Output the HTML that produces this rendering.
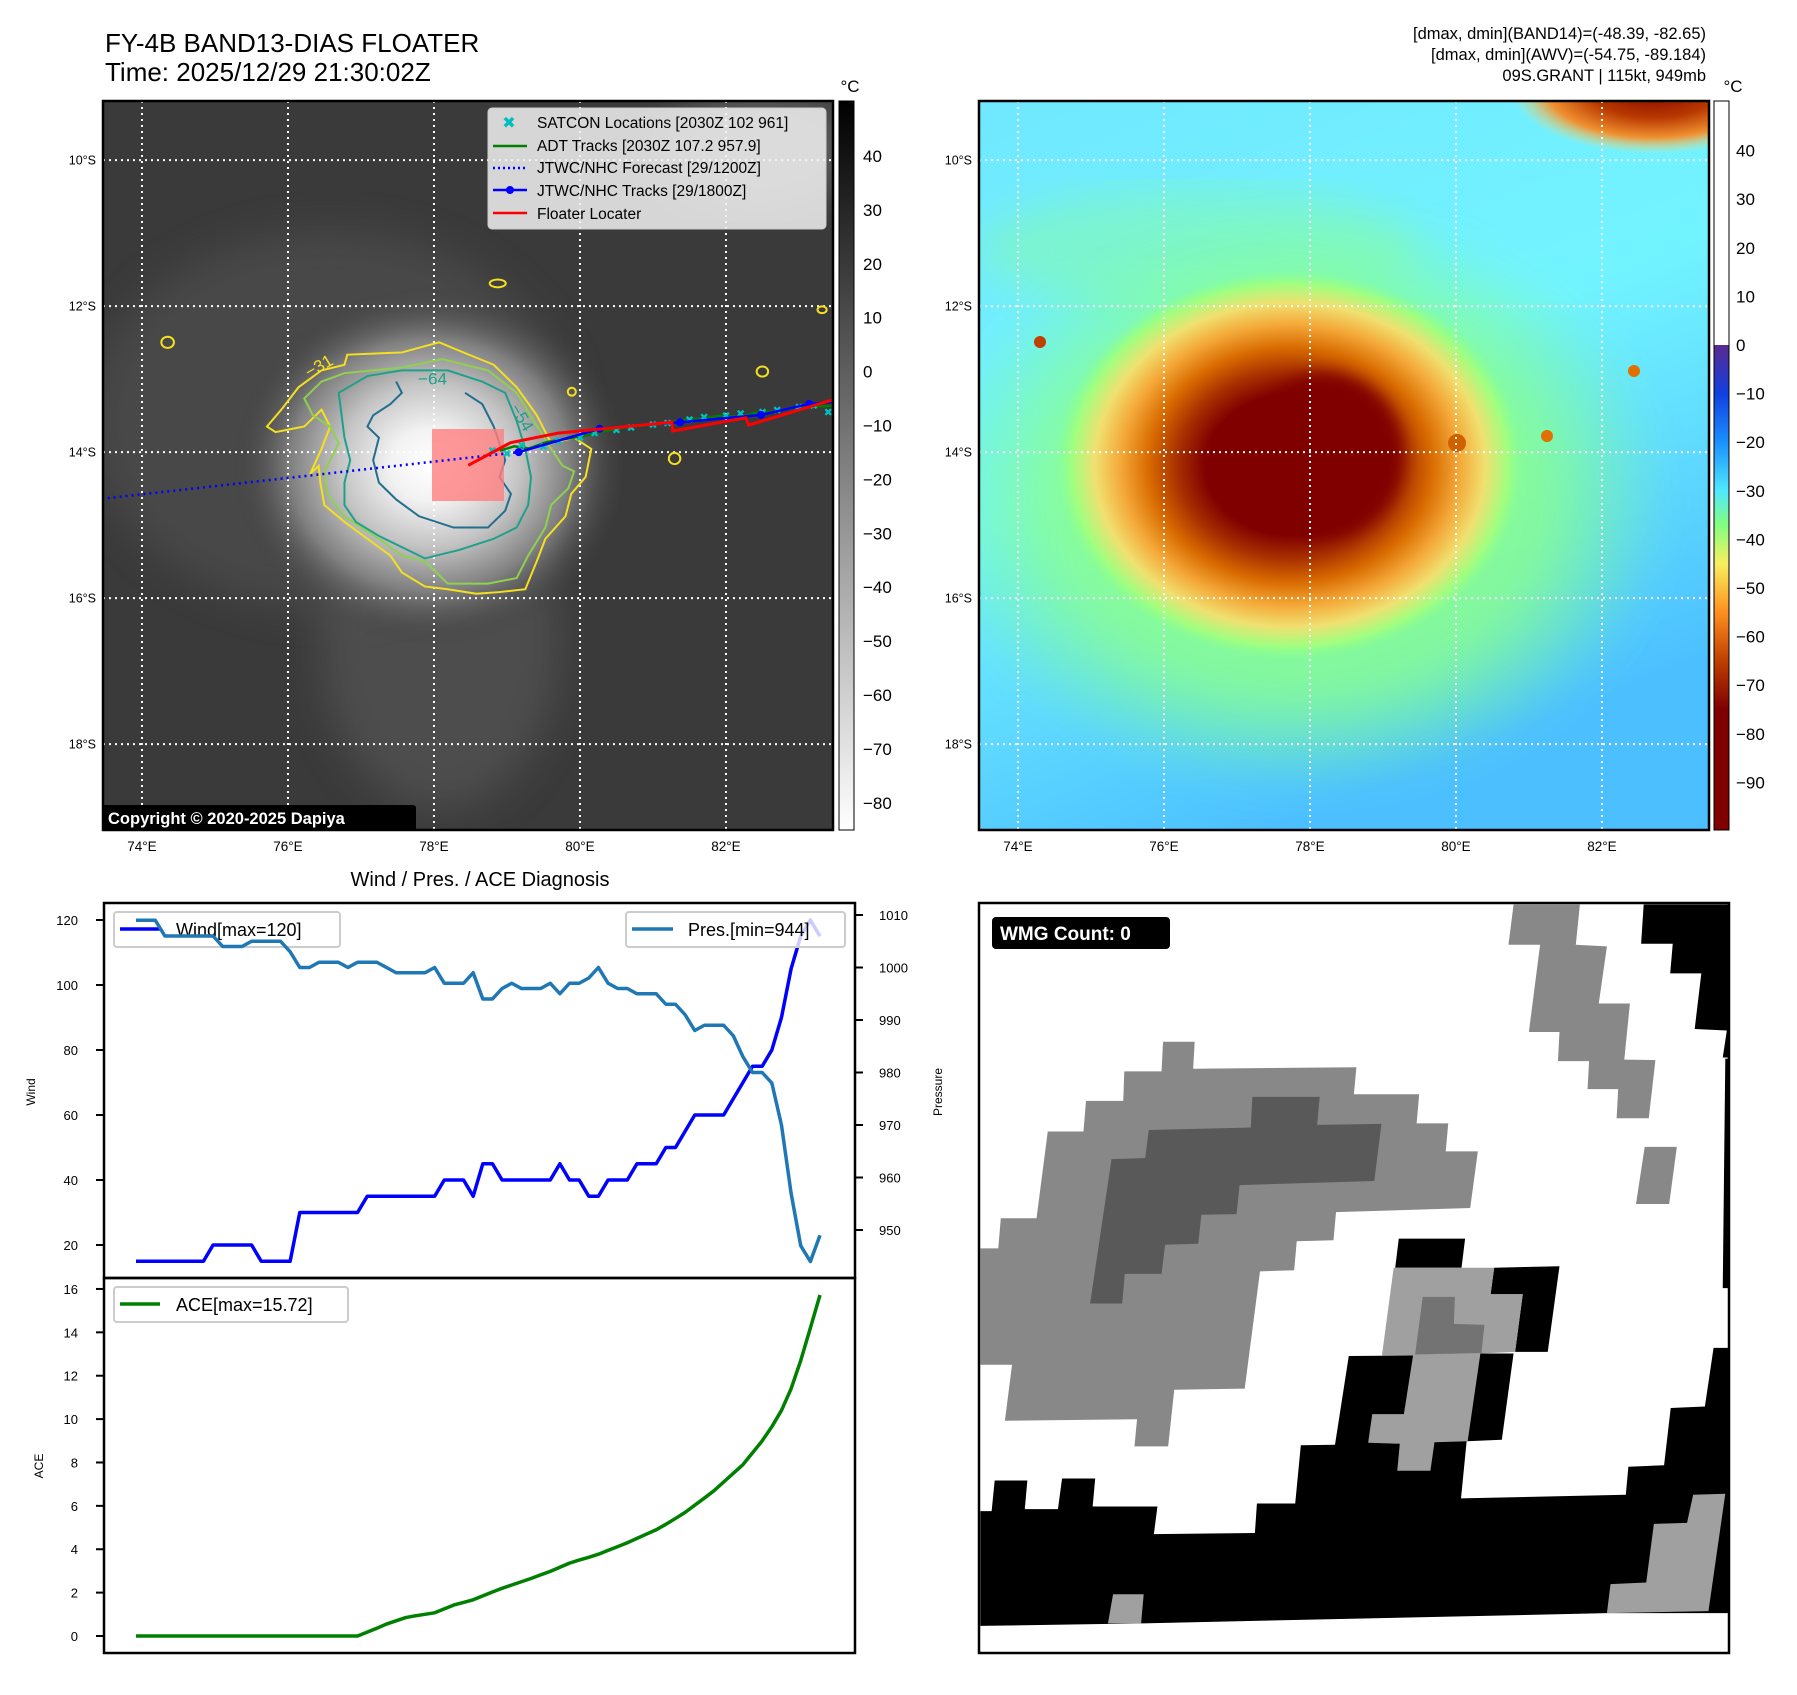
<!DOCTYPE html>
<html><head><meta charset="utf-8">
<style>
html,body{margin:0;padding:0;background:#fff;}
svg text{font-family:"Liberation Sans","DejaVu Sans",sans-serif;}
</style></head>
<body>
<svg id="fig" width="1797" height="1690" viewBox="0 0 1797 1690" xmlns="http://www.w3.org/2000/svg">
<defs>
  <radialGradient id="irCore" cx="0.5" cy="0.5" r="0.5">
    <stop offset="0" stop-color="#ffffff"/>
    <stop offset="0.2" stop-color="#f2f2f2"/>
    <stop offset="0.45" stop-color="#c4c4c4"/>
    <stop offset="0.7" stop-color="#808080"/>
    <stop offset="1" stop-color="#3a3a3a" stop-opacity="0"/>
  </radialGradient>
  <radialGradient id="awvCore" cx="0.5" cy="0.5" r="0.5">
    <stop offset="0" stop-color="#800000"/>
    <stop offset="0.36" stop-color="#800000"/>
    <stop offset="0.48" stop-color="#a83000"/>
    <stop offset="0.6" stop-color="#d86a00"/>
    <stop offset="0.72" stop-color="#f4a838"/>
    <stop offset="0.83" stop-color="#f0e070"/>
    <stop offset="0.93" stop-color="#a0ff80"/>
    <stop offset="1" stop-color="#88ff90" stop-opacity="0"/>
  </radialGradient>
  <radialGradient id="awvHalo" cx="0.5" cy="0.5" r="0.5">
    <stop offset="0" stop-color="#8cff88"/>
    <stop offset="0.65" stop-color="#8cff8c"/>
    <stop offset="1" stop-color="#80ff90" stop-opacity="0"/>
  </radialGradient>
  <radialGradient id="cornerBlob" cx="0.6" cy="0.3" r="0.6">
    <stop offset="0" stop-color="#800000"/>
    <stop offset="0.45" stop-color="#b83800"/>
    <stop offset="0.75" stop-color="#f09030"/>
    <stop offset="1" stop-color="#f8e070" stop-opacity="0"/>
  </radialGradient>
  <linearGradient id="cb1" x1="0" y1="0" x2="0" y2="1">
    <stop offset="0" stop-color="#000"/>
    <stop offset="1" stop-color="#fff"/>
  </linearGradient>
  <linearGradient id="awvBg" x1="0" y1="0" x2="0.4" y2="1">
    <stop offset="0" stop-color="#70e8ff"/>
    <stop offset="0.5" stop-color="#72f4ff"/>
    <stop offset="1" stop-color="#4cc0ff"/>
  </linearGradient>
  <linearGradient id="cb2" x1="0" y1="0" x2="0" y2="1">
    <stop offset="0" stop-color="#5a2a90"/>
    <stop offset="0.1" stop-color="#1040e0"/>
    <stop offset="0.2" stop-color="#1a90ff"/>
    <stop offset="0.3" stop-color="#50e8ff"/>
    <stop offset="0.37" stop-color="#80ff80"/>
    <stop offset="0.45" stop-color="#f8f060"/>
    <stop offset="0.55" stop-color="#ff9020"/>
    <stop offset="0.65" stop-color="#c04000"/>
    <stop offset="0.75" stop-color="#800000"/>
    <stop offset="1" stop-color="#800000"/>
  </linearGradient>
  <filter id="blur8"><feGaussianBlur stdDeviation="8"/></filter>
  <filter id="blur20"><feGaussianBlur stdDeviation="20"/></filter>
  <clipPath id="clipMap1"><rect x="103" y="101" width="730" height="729"/></clipPath>
  <clipPath id="clipMap2"><rect x="979" y="101" width="730" height="729"/></clipPath>
  <clipPath id="clipWmg"><rect x="979" y="903" width="750" height="750"/></clipPath>
</defs>

<!-- titles -->
<text x="105" y="52" font-size="26">FY-4B BAND13-DIAS FLOATER</text>
<text x="105" y="81" font-size="26">Time: 2025/12/29 21:30:02Z</text>
<text x="1706" y="39" font-size="16.5" text-anchor="end">[dmax, dmin](BAND14)=(-48.39, -82.65)</text>
<text x="1706" y="60" font-size="16.5" text-anchor="end">[dmax, dmin](AWV)=(-54.75, -89.184)</text>
<text x="1706" y="81" font-size="16.5" text-anchor="end">09S.GRANT | 115kt, 949mb</text>

<!-- MAP 1 IR -->
<g clip-path="url(#clipMap1)">
  <rect x="103" y="101" width="730" height="729" fill="#3a3a3a"/>
  <ellipse cx="330" cy="420" rx="240" ry="190" fill="#5a5a5a" opacity="0.45" filter="url(#blur20)"/>
  <ellipse cx="440" cy="640" rx="120" ry="170" fill="#606060" opacity="0.5" filter="url(#blur20)"/>
  <ellipse cx="760" cy="150" rx="100" ry="60" fill="#8a8a8a" opacity="0.4" filter="url(#blur20)"/>
  <ellipse cx="430" cy="465" rx="200" ry="180" fill="url(#irCore)"/>
  <g id="irGrid"></g>
  <g id="contours" transform="scale(0.5741,0.5612)" fill="none" stroke-width="3.5">
    <path stroke="#f5e020" d="M605,632 L700,628 L765,610 L800,625 L860,650 L900,690 L935,740 L960,790 L1000,780 L1030,800 L1020,850 L995,880 L985,920 L950,960 L935,1000 L915,1050 L870,1055 L830,1058 L780,1050 L740,1045 L700,1020 L680,990 L640,960 L600,930 L565,900 L558,860 L555,830 L540,845 L560,800 L575,760 L560,730 L530,760 L480,770 L465,760 L490,730 L520,690 L560,660 L600,650 Z"/>
    <path stroke="#8fd14f" d="M600,665 L700,655 L770,640 L850,660 L900,700 L930,750 L960,800 L980,830 L1000,840 L990,870 L960,900 L950,940 L920,990 L900,1030 L850,1040 L780,1040 L740,1000 L700,990 L660,960 L600,920 L570,880 L565,840 L590,790 L575,760 L545,740 L530,710 L560,680 Z"/>
    <path stroke="#1fa08a" d="M590,700 L640,670 L700,660 L780,660 L840,680 L880,700 L900,750 L915,800 L925,850 L920,900 L900,940 L860,960 L800,980 L740,995 L700,975 L660,955 L620,930 L600,900 L600,860 L610,820 L600,780 L595,740 Z"/>
    <path stroke="#236e8c" d="M690,680 L700,700 L680,720 L650,740 L640,760 L660,780 L650,820 L660,860 L690,890 L730,920 L790,940 L850,940 L880,910 L890,880 L870,850 L880,820 L870,790 L860,760 L840,720 L810,700"/>
    <ellipse cx="867" cy="505" rx="14" ry="7" stroke="#f5e020"/>
    <ellipse cx="292" cy="610" rx="11" ry="10" stroke="#f5e020"/>
    <ellipse cx="1328" cy="662" rx="10" ry="9" stroke="#f5e020"/>
    <ellipse cx="1175" cy="817" rx="10" ry="10" stroke="#f5e020"/>
    <ellipse cx="1432" cy="552" rx="8" ry="6" stroke="#f5e020"/>
    <ellipse cx="996" cy="698" rx="7" ry="7" stroke="#f5e020"/>
    <text x="530" y="668" font-size="30" fill="#f5e020" stroke="none" transform="rotate(-30 545 655)">−31</text>
    <text x="728" y="685" font-size="30" fill="#1fa08a" stroke="none">−64</text>
    <text x="880" y="740" font-size="30" fill="#1fa08a" stroke="none" transform="rotate(60 895 740)">−54</text>
  </g>
  <rect x="432" y="429" width="72" height="72" fill="#ff8080" opacity="0.8"/>
  <g id="tracks"></g>
</g>
<rect x="103" y="101" width="730" height="729" fill="none" stroke="#000" stroke-width="2.5"/>
<g>
  <rect x="102" y="805" width="314" height="26" rx="3" fill="#000"/>
  <text x="108" y="824" font-size="16.5" font-weight="bold" fill="#fff">Copyright © 2020-2025 Dapiya</text>
</g>
<!-- map1 legend -->
<g>
  <rect x="488" y="108" width="338" height="121" rx="4" fill="#f2f2f2" fill-opacity="0.85" stroke="#ccc"/>
  <text x="509" y="128" font-size="16" fill="#00bfbf" text-anchor="middle" font-weight="bold">✖</text>
  <text x="537" y="128" font-size="15.5">SATCON Locations [2030Z 102 961]</text>
  <line x1="493" y1="146" x2="527" y2="146" stroke="#008000" stroke-width="2.5"/>
  <text x="537" y="151" font-size="15.5">ADT Tracks [2030Z 107.2 957.9]</text>
  <line x1="493" y1="168" x2="527" y2="168" stroke="#0000ff" stroke-width="2.5" stroke-dasharray="2,3"/>
  <text x="537" y="173" font-size="15.5">JTWC/NHC Forecast [29/1200Z]</text>
  <line x1="493" y1="190" x2="527" y2="190" stroke="#0000ff" stroke-width="2.5"/>
  <circle cx="510" cy="190" r="4" fill="#0000ff"/>
  <text x="537" y="196" font-size="15.5">JTWC/NHC Tracks [29/1800Z]</text>
  <line x1="493" y1="213" x2="527" y2="213" stroke="#ff0000" stroke-width="2.5"/>
  <text x="537" y="219" font-size="15.5">Floater Locater</text>
</g>
<!-- colorbar 1 -->
<rect x="839" y="101" width="15" height="729" fill="url(#cb1)" stroke="#000" stroke-width="1"/>
<text x="850" y="92" font-size="17" text-anchor="middle">°C</text>
<g id="cb1Ticks"></g>

<!-- MAP 2 AWV -->
<g clip-path="url(#clipMap2)">
  <rect x="979" y="101" width="730" height="729" fill="url(#awvBg)"/>
  <ellipse cx="1300" cy="500" rx="370" ry="290" fill="url(#awvHalo)" opacity="0.85" filter="url(#blur20)"/>
  <ellipse cx="1200" cy="250" rx="220" ry="60" fill="#8cff8c" opacity="0.4" filter="url(#blur20)"/>
  <ellipse cx="1290" cy="465" rx="235" ry="195" fill="url(#awvCore)"/>
  <ellipse cx="1325" cy="455" rx="78" ry="82" fill="#800000" filter="url(#blur8)"/>
  <ellipse cx="1630" cy="110" rx="120" ry="55" fill="url(#cornerBlob)"/>
  <circle cx="1040" cy="342" r="6" fill="#c04000"/>
  <circle cx="1634" cy="371" r="6" fill="#e07000"/>
  <circle cx="1547" cy="436" r="6" fill="#e07000"/>
  <circle cx="1457" cy="443" r="9" fill="#d06000"/>
  <g id="awvGrid"></g>
</g>
<rect x="979" y="101" width="730" height="729" fill="none" stroke="#000" stroke-width="2.5"/>
<g>
  <rect x="1714" y="101" width="15" height="244" fill="#fff"/>
  <rect x="1714" y="345" width="15" height="485" fill="url(#cb2)"/>
  <rect x="1714" y="101" width="15" height="729" fill="none" stroke="#000" stroke-width="1"/>
</g>
<text x="1733" y="92" font-size="17" text-anchor="middle">°C</text>
<g id="cb2Ticks"></g>
<g id="axisLabels"></g>

<!-- BOTTOM LEFT CHART -->
<text x="480" y="886" font-size="20" text-anchor="middle">Wind / Pres. / ACE Diagnosis</text>
<g id="diag"></g>
<rect x="104" y="903" width="751" height="375" fill="none" stroke="#000" stroke-width="2.5"/>
<rect x="104" y="1278" width="751" height="375" fill="none" stroke="#000" stroke-width="2.5"/>
<text x="0" y="0" font-size="12" text-anchor="middle" transform="translate(35 1092) rotate(-90)">Wind</text>
<text x="0" y="0" font-size="12" text-anchor="middle" transform="translate(942 1092) rotate(-90)">Pressure</text>
<text x="0" y="0" font-size="12" text-anchor="middle" transform="translate(43 1466) rotate(-90)">ACE</text>

<!-- BOTTOM RIGHT WMG -->
<g clip-path="url(#clipWmg)">
  <rect x="979" y="903" width="750" height="750" fill="#fff"/>
  <g transform="translate(960 880) scale(0.5102)">
    <path fill="#000" d="M40,1237 L62,1237 L68,1177 L132,1177 L127,1233 L192,1233 L200,1173 L265,1173 L260,1228 L387,1228 L380,1282 L578,1280 L582,1222 L657,1222 L668,1108 L735,1107 L762,933 L888,932 L1020,928 L1085,928 L1062,1097 L993,1100 L982,1212 L1305,1205 L1310,1150 L1380,1147 L1393,1035 L1460,1032 L1477,917 L1508,917 L1508,1437 L1268,1437 L357,1457 L40,1462 Z"/>
    <path fill="#888" d="M40,722 L75,722 L80,663 L150,663 L172,493 L242,493 L247,433 L320,433 L322,375 L395,375 L398,317 L460,317 L457,370 L777,367 L772,420 L900,420 L895,477 L957,477 L952,532 L1015,532 L1000,643 L737,651 L732,706 L660,708 L655,765 L588,767 L558,997 L420,999 L408,1110 L342,1110 L347,1057 L88,1060 L102,950 L40,950 Z"/>
    <path fill="#595959" d="M255,830 L318,830 L323,772 L395,772 L402,715 L467,713 L473,656 L542,655 L548,598 L812,590 L826,478 L700,480 L705,425 L573,425 L570,485 L370,490 L363,545 L297,547 Z"/>
    <path fill="#888" d="M1085,48 L1215,48 L1207,127 L1268,130 L1252,242 L1313,242 L1302,352 L1363,353 L1350,467 L1287,467 L1290,410 L1230,410 L1233,355 L1172,355 L1175,298 L1115,298 L1137,127 L1075,127 Z"/>
    <path fill="#888" d="M1342,523 L1405,523 L1390,635 L1325,635 Z"/>
    <path fill="#000" d="M1340,48 L1508,48 L1508,348 L1495,348 L1503,295 L1440,292 L1453,183 L1392,183 L1397,125 L1335,125 Z"/>
    <path fill="#000" d="M1500,350 L1510,350 L1510,800 L1495,800 Z"/>
    <path fill="#000" d="M860,703 L990,703 L983,760 L853,760 Z"/>
    <path fill="#000" d="M1047,760 L1175,757 L1152,925 L1088,925 L1103,812 L1040,812 Z"/>
    <path fill="#a0a0a0" d="M850,760 L1047,760 L1040,812 L1103,812 L1088,925 L1020,928 L995,1100 L930,1102 L922,1158 L857,1158 L862,1105 L800,1103 L808,1047 L870,1047 L888,932 L827,932 Z"/>
    <path fill="#737373" d="M907,817 L970,817 L968,870 L1028,872 L1022,927 L892,930 Z"/>
    <path fill="#a0a0a0" d="M1437,1205 L1500,1203 L1467,1433 L1268,1437 L1275,1380 L1345,1377 L1360,1262 L1425,1260 Z"/>
    <path fill="#a0a0a0" d="M300,1400 L360,1400 L355,1457 L290,1457 Z"/>
  </g>
</g>
<rect x="979" y="903" width="750" height="750" fill="none" stroke="#000" stroke-width="2.5"/>
<g>
  <rect x="992" y="917" width="178" height="32" rx="4" fill="#000"/>
  <text x="1000" y="940" font-size="19" font-weight="bold" fill="#fff">WMG Count: 0</text>
</g>
</svg>

<script>
// ===== Diagnosis chart data =====
const windValues = [15,15,15,15,15,15,15,15, 20,20,20,20,20, 15,15,15,15, 30,30,30,30,30,30,30, 35,35,35,35,35,35,35,35, 40,40,40, 35, 45,45, 40,40,40,40,40,40, 45, 40,40, 35,35, 40,40,40, 45,45,45, 50,50, 55, 60,60,60,60, 65,70,75,75,80,90,105,115,120,115];
const presValues = [1009,1009,1009, 1006,1006,1006,1006,1006,1006, 1004,1004,1004, 1005,1005,1005,1005, 1003, 1000,1000, 1001,1001,1001, 1000, 1001,1001,1001, 1000, 999,999,999,999, 1000, 997,997,997, 999, 994,994, 996, 997, 996,996,996, 997, 995, 997,997, 998, 1000, 997, 996,996, 995,995,995, 993,993, 991, 988, 989,989,989, 987,983,980,980,978,970,957,947,944,949];
const aceValues = [0,0,0,0,0,0,0,0,0,0,0,0,0,0,0,0,0,0,0,0,0,0,0,0, 0.18,0.36,0.55,0.7,0.85,0.93,1.0,1.07,1.25,1.43,1.55,1.67,1.85,2.03,2.2,2.35,2.5,2.65,2.82,2.98,3.17,3.36,3.5,3.63,3.77,3.95,4.12,4.3,4.5,4.7,4.9,5.15,5.42,5.7,6.03,6.36,6.7,7.1,7.5,7.9,8.45,9.0,9.65,10.4,11.4,12.7,14.2,15.72];
const windTicks = [20,40,60,80,100,120];
const presTicks = [950,960,970,980,990,1000,1010];
const aceTicks = [0,2,4,6,8,10,12,14,16];
const windLegendLabel = "Wind[max=120]";
const presLegendLabel = "Pres.[min=944]";
const aceLegendLabel = "ACE[max=15.72]";

// ===== Map data =====
const lonTicks = [74,76,78,80,82];
const latTicks = [10,12,14,16,18];
const forecastLon = [73.53,79.16];
const forecastLat = [14.63,14.0];
const jtwcLon = [79.16,80.27,81.37,82.48,83.14,83.6];
const jtwcLat = [14.0,13.68,13.59,13.49,13.34,13.3];
const floaterLon = [78.47,79.05,79.7,81.26,81.27,82.27,82.31,83.44,83.6];
const floaterLat = [14.18,13.87,13.74,13.59,13.71,13.53,13.63,13.29,13.25];
const adtLon = [78.9,79.1,79.3,79.55,79.8,80.05,80.3,80.6,80.8,81.1,81.4,81.7,81.9,82.2,82.4,82.7,82.9,83.2,83.5];
const adtLat = [13.98,13.92,13.95,13.86,13.82,13.78,13.72,13.66,13.64,13.62,13.56,13.54,13.5,13.52,13.46,13.44,13.4,13.38,13.36];
const satconLon = [78.8,79.0,79.2,79.5,79.7,80.0,80.2,80.5,80.7,81.0,81.2,81.5,81.7,82.0,82.2,82.5,82.7,83.0,83.2,83.4];
const satconLat = [13.98,14.02,13.9,13.92,13.85,13.8,13.74,13.7,13.66,13.62,13.6,13.55,13.52,13.5,13.47,13.45,13.42,13.38,13.36,13.45];
const ir_cbTicks = [40,30,20,10,0,-10,-20,-30,-40,-50,-60,-70,-80];
const awv_cbTicks = [40,30,20,10,0,-10,-20,-30,-40,-50,-60,-70,-80,-90];

const NS = "http://www.w3.org/2000/svg";
function mk(tag, attrs, parent){ const e=document.createElementNS(NS,tag); for(const k in attrs) e.setAttribute(k,attrs[k]); parent.appendChild(e); return e; }

const X0 = 136, X1 = 820, N = windValues.length;
function xIdx(i){ return X0 + i*(X1-X0)/(N-1); }
function yWind(w){ return 920 + (120-w)*3.25; }
function yPres(p){ return 915 + (1010-p)*5.25; }
function yAce(a){ return 1636 - a*21.69; }
function mapX(lon, off){ return off + (lon-73.466)*73; }
function mapY(lat){ return 101 + (lat-9.19)*73; }
function cb1Y(v){ return 156 + (40-v)*5.39; }
function cb2Y(v){ return 150.6 + (40-v)*4.86; }

const irGrid = document.getElementById('irGrid');
const awvGrid = document.getElementById('awvGrid');
const axisLabels = document.getElementById('axisLabels');
[[irGrid,103],[awvGrid,979]].forEach(([g,off])=>{
  lonTicks.forEach(lon=>{
    const l = mk('line',{x1:mapX(lon,off),x2:mapX(lon,off),y1:101,y2:830,stroke:'#fff','stroke-width':2,'stroke-dasharray':'2,4'},g);
    
    
    const t = mk('text',{x:mapX(lon,off),y:851,'font-size':13.5,'text-anchor':'middle'},axisLabels);
    t.textContent = lon+'°E';
    
    
  });
  latTicks.forEach(lat=>{
    const l = mk('line',{x1:off,x2:off+730,y1:mapY(lat),y2:mapY(lat),stroke:'#fff','stroke-width':2,'stroke-dasharray':'2,4'},g);
    
    
    const t = mk('text',{x:off-7,y:mapY(lat)+4.5,'font-size':12.5,'text-anchor':'end'},axisLabels);
    t.textContent = lat+'°S';
    
    
  });
});

const tracks = document.getElementById('tracks');
function pts(lons,lats){ return lons.map((l,i)=>mapX(l,103)+','+mapY(lats[i])).join(' '); }
const fc = mk('polyline',{points:pts(forecastLon,forecastLat),fill:'none',stroke:'#0000ff','stroke-width':2.5,'stroke-dasharray':'2,4'},tracks);


const adt = mk('polyline',{points:pts(adtLon,adtLat),fill:'none',stroke:'#008000','stroke-width':2.5},tracks);


satconLon.forEach((l,i)=>{
  const t = mk('text',{x:mapX(l,103),y:mapY(satconLat[i])+4,'font-size':11,'text-anchor':'middle',fill:'#00c0c0','font-weight':'bold'},tracks);
  t.textContent='✖';
  
  
});
const jt = mk('polyline',{points:pts(jtwcLon,jtwcLat),fill:'none',stroke:'#0000ff','stroke-width':2.5},tracks);


jtwcLon.forEach((l,i)=>{
  const c = mk('circle',{cx:mapX(l,103),cy:mapY(jtwcLat[i]),r:4,fill:'#0000ff'},tracks);
  
  
});
const fl = mk('polyline',{points:pts(floaterLon,floaterLat),fill:'none',stroke:'#ff0000','stroke-width':3},tracks);



const cb1T = document.getElementById('cb1Ticks');
ir_cbTicks.forEach(v=>{
  const t = mk('text',{x:863,y:cb1Y(v)+6,'font-size':17},cb1T);
  t.textContent = v<0 ? '−'+Math.abs(v) : String(v);
  
  
});
const cb2T = document.getElementById('cb2Ticks');
awv_cbTicks.forEach(v=>{
  const t = mk('text',{x:1736,y:cb2Y(v)+6,'font-size':17},cb2T);
  t.textContent = v<0 ? '−'+Math.abs(v) : String(v);
  
  
});

const diag = document.getElementById('diag');
windTicks.forEach(v=>{
  mk('line',{x1:96,x2:104,y1:yWind(v),y2:yWind(v),stroke:'#000','stroke-width':2},diag);
  const t = mk('text',{x:78,y:yWind(v)+5,'font-size':13,'text-anchor':'end'},diag);
  t.textContent=v;
  
  
});
presTicks.forEach(v=>{
  mk('line',{x1:855,x2:863,y1:yPres(v),y2:yPres(v),stroke:'#000','stroke-width':2},diag);
  const t = mk('text',{x:879,y:yPres(v)+5,'font-size':13},diag);
  t.textContent=v;
  
  
});
aceTicks.forEach(v=>{
  mk('line',{x1:96,x2:104,y1:yAce(v),y2:yAce(v),stroke:'#000','stroke-width':2},diag);
  const t = mk('text',{x:78,y:yAce(v)+5,'font-size':13,'text-anchor':'end'},diag);
  t.textContent=v;
  
  
});
const wl = mk('g',{},diag);


mk('rect',{x:114,y:912,width:226,height:35,rx:3,fill:'#fff','fill-opacity':0.85,stroke:'#ccc','stroke-width':2},wl);
mk('line',{x1:120,x2:160,y1:929,y2:929,stroke:'#0000ff','stroke-width':3.5},wl);
const wlt = mk('text',{x:176,y:936,'font-size':18},wl); wlt.textContent=windLegendLabel;

const windPath = mk('polyline',{points:windValues.map((v,i)=>xIdx(i)+','+yWind(v)).join(' '),fill:'none',stroke:'#0000ff','stroke-width':3.5,'stroke-linejoin':'round'},diag);


const presPath = mk('polyline',{points:presValues.map((v,i)=>xIdx(i)+','+yPres(v)).join(' '),fill:'none',stroke:'#1f77b4','stroke-width':3.5,'stroke-linejoin':'round'},diag);


const pl = mk('g',{},diag);


mk('rect',{x:626,y:912,width:219,height:35,rx:3,fill:'#fff','fill-opacity':0.8,stroke:'#ccc','stroke-width':2},pl);
mk('line',{x1:632,x2:673,y1:929,y2:929,stroke:'#1f77b4','stroke-width':3.5},pl);
const plt = mk('text',{x:688,y:936,'font-size':18},pl); plt.textContent=presLegendLabel;

const acePath = mk('polyline',{points:aceValues.map((v,i)=>xIdx(i)+','+yAce(v)).join(' '),fill:'none',stroke:'#008000','stroke-width':3.5,'stroke-linejoin':'round'},diag);


const al = mk('g',{},diag);


mk('rect',{x:114,y:1287,width:234,height:35,rx:3,fill:'#fff','fill-opacity':0.85,stroke:'#ccc','stroke-width':2},al);
mk('line',{x1:120,x2:160,y1:1304,y2:1304,stroke:'#008000','stroke-width':3.5},al);
const alt = mk('text',{x:176,y:1311,'font-size':18},al); alt.textContent=aceLegendLabel;
</script>
</body></html>
